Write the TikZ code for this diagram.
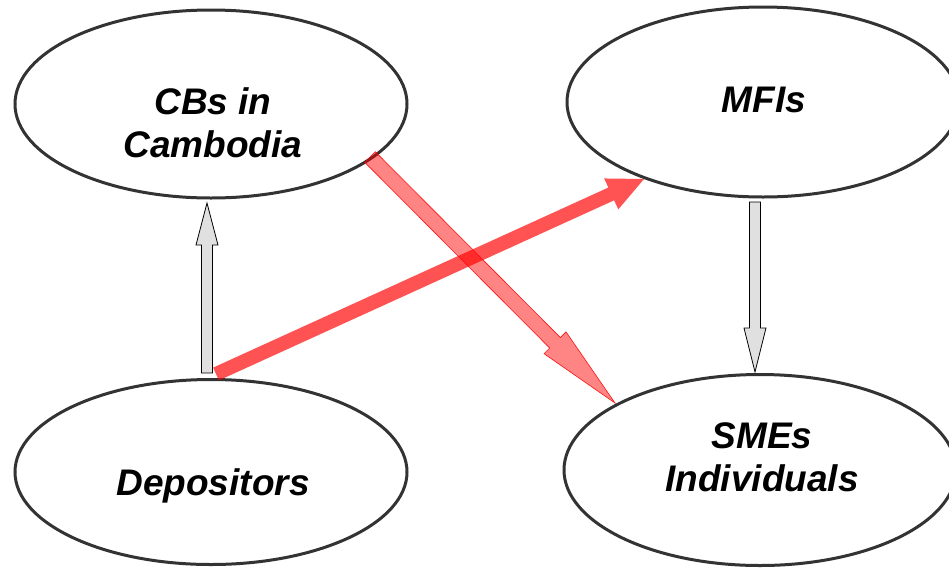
\documentclass[tikz,border=0pt]{standalone}
\usepackage{fontspec}
\setmainfont{Liberation Sans}
\usetikzlibrary{shapes.geometric,calc}
\definecolor{ringcol}{HTML}{333333}
\definecolor{greyfill}{HTML}{E0E0E0}
\tikzset{
  ring/.style={draw=ringcol, line width=3pt, ellipse, inner sep=0pt, minimum width=392pt, minimum height=188pt},
  lbl/.style={font=\fontsize{37}{43}\selectfont\bfseries\itshape, align=center, inner sep=0pt},
  greyarrow/.style={fill=greyfill, draw=black, line width=0.8pt, line join=miter},
  solidred/.style={fill=red, fill opacity=0.68, draw=none},
  paleRed/.style={fill=red, fill opacity=0.48, draw=red, draw opacity=0.9, line width=0.6pt}
}
\newcommand{\blkarrow}[6]{%
  \coordinate (hb) at ($(#3)!#6!(#2)$);
  \path[#1] ($(#2)!#4!90:(#3)$) -- ($(hb)!#4!90:(#3)$) -- ($(hb)!#5!90:(#3)$) -- (#3)
    -- ($(hb)!#5!-90:(#3)$) -- ($(hb)!#4!-90:(#3)$) -- ($(#2)!#4!-90:(#3)$) -- cycle;}
\begin{document}
\begin{tikzpicture}[x=1pt,y=-1pt]
\useasboundingbox (0,0) rectangle (949,568);
\clip (0,0) rectangle (949,568);
% ellipses
\node[ring] (cb) at (211,104) {};
\node[ring, minimum height=190pt] (mfi) at (763,102) {};
\node[ring, minimum height=185pt] (dep) at (211,472) {};
\node[ring, minimum height=191pt] (sme) at (760,470) {};
% labels
\node[lbl] (cbt) at (213,123) {CBs in\\Cambodia};
\node[lbl, anchor=base] (mfit) at (764,112) {MFIs};
\node[lbl, anchor=base] (dept) at (213,495) {Depositors};
\node[lbl] (smet) at (762,457) {SMEs\\Individuals};
% connector end points
\coordinate (g1s) at (207,373);
\coordinate (g1e) at (207,203);
\coordinate (g2s) at (755,202);
\coordinate (g2e) at (755,372);
\coordinate (r1s) at (216,374);
\coordinate (r1e) at (644,179);
\coordinate (r2s) at (370,157);
\coordinate (r2e) at (615,403);
% grey arrows
\blkarrow{greyarrow, draw}{g1s}{g1e}{5.5pt}{11pt}{42pt}
\blkarrow{greyarrow, draw}{g2s}{g2e}{5.5pt}{11pt}{44pt}
% red arrows
\blkarrow{solidred}{r1s}{r1e}{7pt}{17pt}{36pt}
\blkarrow{paleRed}{r2s}{r2e}{7.5pt}{15.5pt}{85pt}
\end{tikzpicture}
\end{document}
